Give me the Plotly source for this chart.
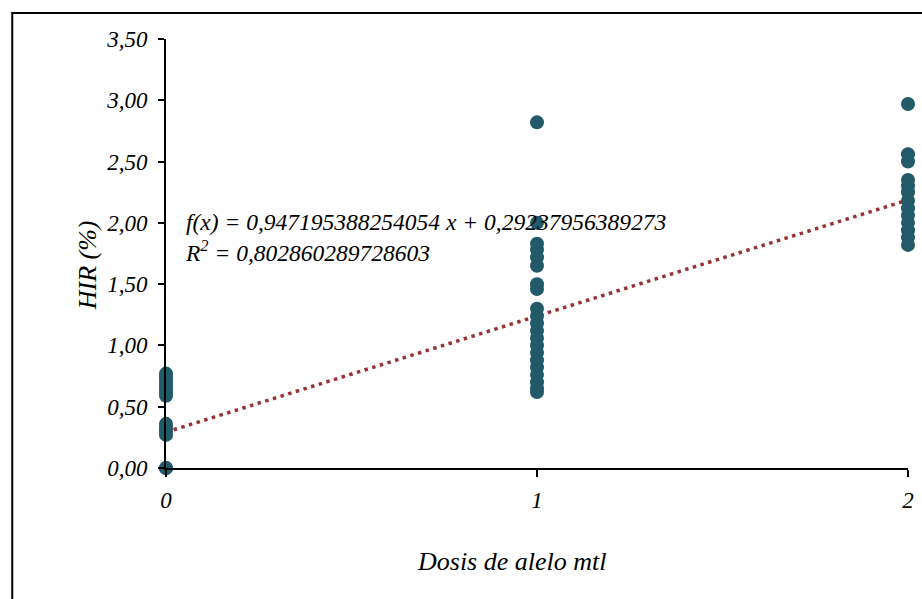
import plotly.graph_objects as go

dose_0 = [0.00, 0.00, 0.27, 0.30, 0.33, 0.36, 0.59, 0.62, 0.65, 0.68, 0.71, 0.74, 0.77]
dose_1 = [2.82, 2.00, 1.83, 1.78, 1.72, 1.65, 1.50, 1.46, 1.30, 1.24, 1.18, 1.12,
          1.06, 1.00, 0.94, 0.88, 0.82, 0.76, 0.70, 0.65, 0.62]
dose_2 = [2.97, 2.56, 2.50, 2.35, 2.30, 2.25, 2.18, 2.12, 2.06, 2.00, 1.94, 1.88, 1.82]
doses = [0, 1, 2]
slope = 0.947195388254054
intercept = 0.29237956389273
x_ticks = [0, 1, 2]
y_ticks = [0, 0.5, 1.0, 1.5, 2.0, 2.5, 3.0, 3.5]

xs = [0] * len(dose_0) + [1] * len(dose_1) + [2] * len(dose_2)
ys = dose_0 + dose_1 + dose_2

FONT = "Liberation Serif"
MARK = "#225a69"

W, H = 922, 599
L, T = 166, 39
R = 8
B = 131
PW = W - L - R
PH = H - T - B


def px_x(p):
    return (p - L) / PW


def px_y(p):
    return (H - B - p) / PH


fig = go.Figure()
fig.add_trace(go.Scatter(
    x=[doses[0], doses[-1]],
    y=[intercept + slope * doses[0], intercept + slope * doses[-1]],
    mode="lines",
    line=dict(color="#993333", width=3.5, dash="3.5px,4.5px"),
    hoverinfo="skip", showlegend=False,
))
fig.add_trace(go.Scatter(
    x=xs, y=ys, mode="markers",
    marker=dict(color=MARK, size=14, line=dict(width=0)),
    cliponaxis=False, showlegend=False,
))

tickfont = dict(family=FONT, size=23, color="black", style="italic")
fig.update_layout(
    width=W, height=H,
    margin=dict(l=L, r=R, t=T, b=B),
    paper_bgcolor="white", plot_bgcolor="white",
    separators=",.",
    showlegend=False,
    xaxis=dict(
        range=[0, 2], tickvals=x_ticks, ticktext=[str(v) for v in x_ticks],
        showgrid=False, zeroline=False, showline=True, linecolor="black", linewidth=2,
        ticks="outside", ticklen=7, tickwidth=2, tickcolor="black",
        tickfont=tickfont, ticklabelstandoff=3,
    ),
    yaxis=dict(
        range=[0, 3.5], tickvals=y_ticks, tickformat=".2f",
        showgrid=False, zeroline=False, showline=True, linecolor="black", linewidth=2,
        ticks="outside", ticklen=6, tickwidth=2, tickcolor="black",
        tickfont=tickfont, ticklabelstandoff=6,
    ),
    shapes=[dict(
        type="rect", xref="paper", yref="paper",
        x0=px_x(11), x1=px_x(960), y0=px_y(650), y1=px_y(13),
        line=dict(color="black", width=2), fillcolor="rgba(0,0,0,0)", layer="below",
    )],
    annotations=[
        dict(text="HIR (%)", xref="paper", yref="paper",
             x=px_x(70), y=px_y(265), textangle=-90,
             showarrow=False, font=dict(family=FONT, size=26, color="black", style="italic")),
        dict(text="Dosis de alelo mtl", xref="paper", yref="paper",
             x=px_x(515), y=px_y(578),
             showarrow=False, font=dict(family=FONT, size=26, color="black", style="italic")),
        dict(text="f(x) = 0,947195388254054 x + 0,29237956389273<br>R<sup>2</sup> = 0,802860289728603",
             xref="paper", yref="paper", x=px_x(183), y=px_y(238),
             xanchor="left", yanchor="middle", align="left",
             showarrow=False, font=dict(family=FONT, size=23.5, color="black", style="italic")),
    ],
)

fig.write_html(
    "out.html",
    config={"displayModeBar": False},
    post_script="document.body.style.margin='0px';document.body.style.overflow='hidden';",
)
